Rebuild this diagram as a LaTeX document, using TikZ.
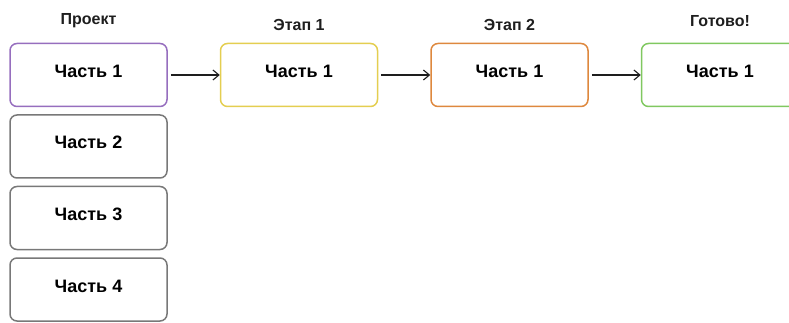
\documentclass[tikz,border=0pt]{standalone}
\usepackage{fontspec}
\setmainfont{Liberation Sans}
\usepackage{tikz}
\usetikzlibrary{arrows.meta, positioning}
\definecolor{mypurple}{RGB}{150,110,190}
\definecolor{myyellow}{RGB}{228,206,80}
\definecolor{myorange}{RGB}{222,136,62}
\definecolor{mygreen}{RGB}{128,200,96}
\definecolor{mygray}{RGB}{120,120,120}
\definecolor{mydark}{RGB}{30,30,30}
\tikzset{
  part/.style={rectangle, draw=mygray, fill=white,
    minimum width=157pt, minimum height=63pt,
    text height=13pt, text depth=8pt,
    font=\bfseries\fontsize{18}{21}\selectfont, rounded corners=7pt, line width=1.5pt},
  title/.style={font=\bfseries\fontsize{16}{19}\selectfont, color=mydark},
  arrow/.style={-{Straight Barb[length=6pt, width=10pt]}, line width=1.1pt,
    color=mydark, shorten <=3pt}
}

\begin{document}
\begin{tikzpicture}[x=1pt, y=1pt]
  \useasboundingbox (0,0) rectangle (789,-323);

  % Project column
  \node[part, draw=mypurple] (p1) at (88.5,-75) {Часть 1};
  \node[part, below=7pt of p1] (p2) {Часть 2};
  \node[part, below=7pt of p2] (p3) {Часть 3};
  \node[part, below=7pt of p3] (p4) {Часть 4};

  % Stages
  \node[part, draw=myyellow, right=52pt of p1] (s1) {Часть 1};
  \node[part, draw=myorange, right=52pt of s1] (s2) {Часть 1};
  \node[part, draw=mygreen, right=52pt of s2] (s3) {Часть 1};

  % Titles above
  \node[title, above=11pt of p1] (t0) {Проект};
  \node[title, above=9pt of s1] (t1) {Этап 1};
  \node[title, above=9pt of s2] (t2) {Этап 2};
  \node[title, above=13pt of s3] (t3) {Готово!};

  % Arrows
  \draw[arrow] (p1) -- (s1);
  \draw[arrow] (s1) -- (s2);
  \draw[arrow] (s2) -- (s3);
\end{tikzpicture}
\end{document}
